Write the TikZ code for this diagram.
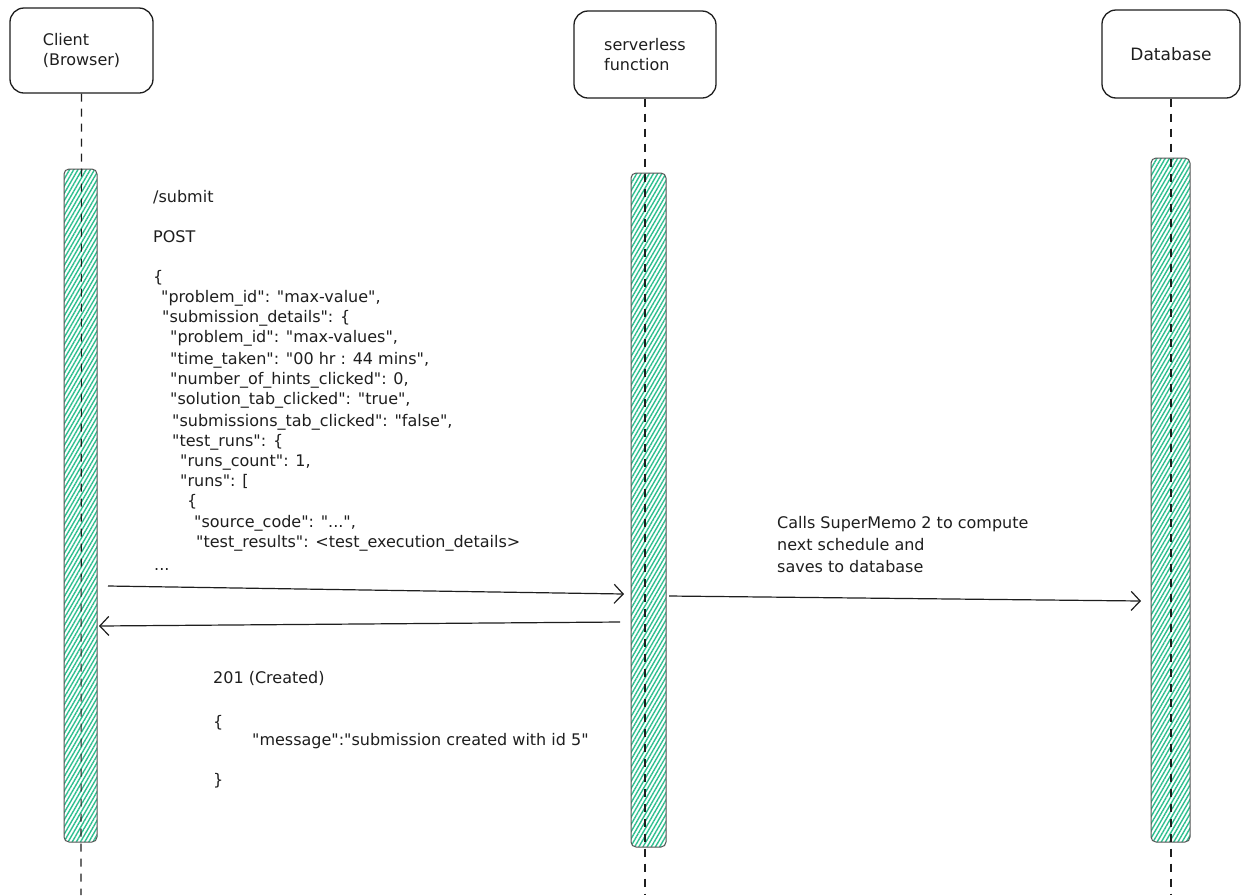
\documentclass[tikz,border=0pt]{standalone}
\usepackage{fontspec}
\setmainfont{DejaVu Sans}[Ligatures=TeXOff]
\usetikzlibrary{arrows.meta,patterns.meta}
\definecolor{ink}{HTML}{1E1E1E}
\definecolor{hatchc}{HTML}{2DBF8F}
\begin{document}
\begin{tikzpicture}[x=1pt,y=-1pt,
  actor/.style={draw=ink,line width=1.3pt,rounded corners=14pt,fill=white,align=left,text=ink,font=\fontsize{16}{20.5}\selectfont},
  bar/.style={draw=ink!75,line width=1pt,rounded corners=5pt,pattern={Lines[angle=60,distance=3.6pt,line width=1.4pt]},pattern color=hatchc},
  life/.style={draw=ink,line width=1.1pt,dash pattern=on 8pt off 7pt},
  msg/.style={draw=ink,line width=1.2pt,-{Straight Barb[length=9pt,width=19pt,line width=1.2pt]}},
  txt/.style={anchor=base west,inner sep=0pt,text=ink,font=\fontsize{16}{20}\selectfont}
]
\useasboundingbox (0,0) rectangle (1241,895);
\fill[white] (0,0) rectangle (1241,895);

% actors
\node[actor,minimum width=143pt,minimum height=85pt] (client) at (81.5,50.5) {Client\\(Browser)};
\node[actor,minimum width=142pt,minimum height=87pt] (server) at (645,54.5) {serverless\\function};
\node[actor,minimum width=138pt,minimum height=88pt,font=\fontsize{17}{20.5}\selectfont] (db) at (1171,54) {Database};

% activation bars
\node[bar,minimum width=33pt,minimum height=673pt] (cbar) at (80.5,505.5) {};
\node[bar,minimum width=35pt,minimum height=674pt] (sbar) at (648.5,510) {};
\node[bar,minimum width=39pt,minimum height=684pt] (dbar) at (1170.5,500) {};

% lifelines
\coordinate (cend) at (81,895);
\coordinate (send) at (645,895);
\coordinate (dend) at (1171,895);
\draw[life] (client.south) -- (cend);
\draw[life] (server.south) -- (send);
\draw[life] (db.south) -- (dend);

% messages
\coordinate (m1s) at (108,586); \coordinate (m1e) at (624,594);
\coordinate (m2s) at (620,622); \coordinate (m2e) at (99,626);
\coordinate (m3s) at (669,596); \coordinate (m3e) at (1141,601);
\draw[msg] (m1s) -- (m1e);
\draw[msg] (m2s) -- (m2e);
\draw[msg] (m3s) -- (m3e);

% request text
\node[txt] (j1) at (153,202) {/submit};
\node[txt] (j2) at (153,242) {POST};
\node[txt] (j3) at (153,282) {\{};
\node[txt] (j4) at (161,302) {"problem\_id": "max-value",};
\node[txt] (j5) at (162,322) {"submission\_details": \{};
\node[txt] (j6) at (170,342) {"problem\_id": "max-values",};
\node[txt] (j7) at (170,364) {"time\_taken": "00 hr : 44 mins",};
\node[txt] (j8) at (170,384) {"number\_of\_hints\_clicked": 0,};
\node[txt] (j9) at (170,404) {"solution\_tab\_clicked": "true",};
\node[txt] (j10) at (172,426) {"submissions\_tab\_clicked": "false",};
\node[txt] (j11) at (172,446) {"test\_runs": \{};
\node[txt] (j12) at (180,466) {"runs\_count": 1,};
\node[txt] (j13) at (180,486) {"runs": [};
\node[txt] (j14) at (187,506) {\{};
\node[txt] (j15) at (194,527) {"source\_code": "...",};
\node[txt] (j16) at (196,547) {"test\_results": <test\_execution\_details>};
\node[txt] (j17) at (154,570) {...};

% response text
\node[txt] (r1) at (213,683) {201 (Created)};
\node[txt] (r2) at (213,727) {\{};
\node[txt] (r3) at (252,745) {"message":"submission created with id 5"};
\node[txt] (r4) at (213,785) {\}};

% label
\node[txt] (l1) at (777,528) {Calls SuperMemo 2 to compute};
\node[txt] (l2) at (777,550) {next schedule and};
\node[txt] (l3) at (777,572) {saves to database};
\end{tikzpicture}
\end{document}
